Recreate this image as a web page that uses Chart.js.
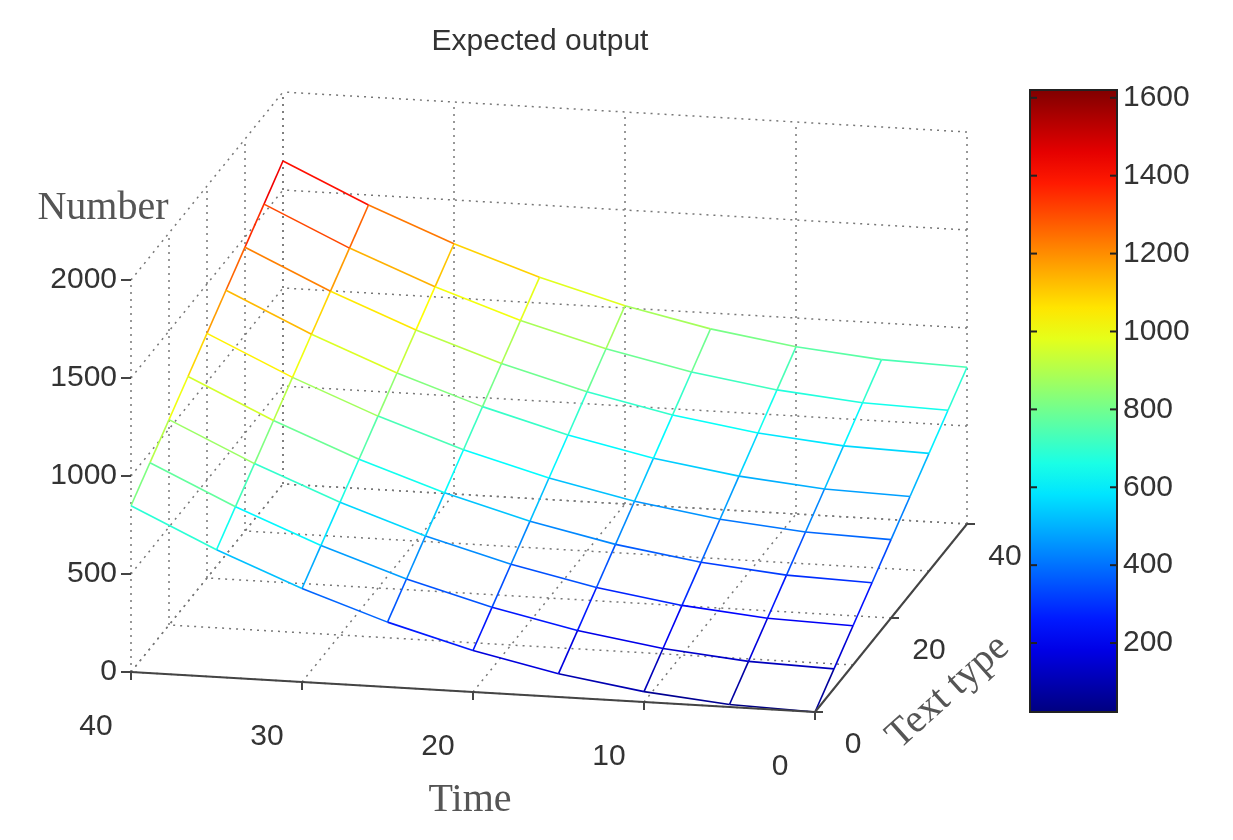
<!DOCTYPE html>
<html><head><meta charset="utf-8">
<script src="https://cdn.jsdelivr.net/npm/chart.js@4"></script>
<style>html,body{margin:0;background:#fff}</style></head>
<body><canvas id="c" width="1233" height="840"></canvas>
<script>
const timeVals=[0,5,10,15,20,25,30,35,40];
const textVals=[0,5,10,15,20,25,30,35,40];
// number[i][j]: time=timeVals[i], text type=textVals[j]
const number=[
[0,100,200,300,400,500,600,700,800],
[13,113,213,313,413,513,613,713,813],
[53,153,253,353,453,553,653,753,853],
[119,219,319,419,519,619,719,819,919],
[212,312,412,512,612,712,812,912,1012],
[331,431,531,631,731,831,931,1031,1131],
[477,577,677,777,877,977,1077,1177,1277],
[649,749,849,949,1049,1149,1249,1349,1449],
[848,948,1048,1148,1248,1348,1448,1548,1648]];
const zTicks=[0,500,1000,1500,2000];
const timeTicks=[40,30,20,10,0];
const textTicks=[0,20,40];
const cbTicks=[200,400,600,800,1000,1200,1400,1600];

function proj(t,s,z){return {x:815-17.1*t+3.8*s, y:712-1.0*t-4.7*s-0.196*z};}
function jet(v){v=Math.max(0,Math.min(1,v));const c=x=>Math.round(255*Math.max(0,Math.min(1,1.5-Math.abs(x))));return `rgb(${c(4*v-3)},${c(4*v-2)},${c(4*v-1)})`;}
const CMAX=1800;
const ds=[];
function addLine(pts,zs){
  ds.push({data:pts,borderWidth:1.6,pointRadius:0,showLine:true,tension:0,
    segment:{borderColor:ctx=>jet(((zs[ctx.p0DataIndex]+zs[ctx.p1DataIndex])/2)/CMAX)}});
}
for(let j=0;j<textVals.length;j++){
  const pts=[],zs=[];
  for(let i=0;i<timeVals.length;i++){pts.push(proj(timeVals[i],textVals[j],number[i][j]));zs.push(number[i][j]);}
  addLine(pts,zs);
}
for(let i=0;i<timeVals.length;i++){
  const pts=[],zs=[];
  for(let j=0;j<textVals.length;j++){pts.push(proj(timeVals[i],textVals[j],number[i][j]));zs.push(number[i][j]);}
  addLine(pts,zs);
}
const ZTOP=2000;
const deco={id:'deco',
 beforeDatasetsDraw(ch){
  const c=ch.ctx,X=ch.scales.x,Y=ch.scales.y;
  const P=(t,s,z)=>{const p=proj(t,s,z);return [X.getPixelForValue(p.x),Y.getPixelForValue(p.y)];};
  const L=(a,b)=>{c.beginPath();c.moveTo(...a);c.lineTo(...b);c.stroke();};
  c.save();c.strokeStyle='#777';c.lineWidth=1.5;c.setLineDash([2,5]);
  for(const t of [0,10,20,30,40]){L(P(t,40,0),P(t,40,ZTOP));L(P(t,0,0),P(t,40,0));}
  for(const s of [0,10,20,30,40]){L(P(40,s,0),P(40,s,ZTOP));L(P(0,s,0),P(40,s,0));}
  for(const z of zTicks){L(P(0,40,z),P(40,40,z));L(P(40,0,z),P(40,40,z));}
  c.restore();
 },
 afterDraw(ch){
  const c=ch.ctx,X=ch.scales.x,Y=ch.scales.y;
  const P=(t,s,z)=>{const p=proj(t,s,z);return [X.getPixelForValue(p.x),Y.getPixelForValue(p.y)];};
  const L=(a,b)=>{c.beginPath();c.moveTo(...a);c.lineTo(...b);c.stroke();};
  c.save();c.strokeStyle='#444';c.lineWidth=2;
  L(P(40,0,0),P(0,0,0));L(P(0,0,0),P(0,40,0));
  c.fillStyle='#333';c.font='30px "Liberation Sans", Arial';
  c.textAlign='right';c.textBaseline='middle';
  for(const z of zTicks){const p=P(40,0,z);L(p,[p[0]-10,p[1]]);c.fillText(String(z),p[0]-14,p[1]);}
  c.textAlign='center';
  for(const t of timeTicks){const p=P(t,0,0);L(p,[p[0],p[1]+8]);c.fillText(String(t),p[0]-35,p[1]+55);}
  for(const s of textTicks){const p=P(0,s,0);L(p,[p[0]+8,p[1]]);c.fillText(String(s),p[0]+38,p[1]+33);}
  c.fillStyle='#555';c.font='40px "Liberation Serif", serif';
  c.fillText('Number',103,208);c.fillText('Time',470,800);
  c.save();c.translate(948,692);c.rotate(-Math.PI/4.3);c.fillText('Text type',0,0);c.restore();
  c.fillStyle='#333';c.font='30px "Liberation Sans", Arial';c.fillText('Expected output',540,42);
  const x0=1030,x1=1117,y0=90,y1=712,vmin=23,vmax=1620;
  const g=c.createLinearGradient(0,y1,0,y0);
  for(let k=0;k<=20;k++)g.addColorStop(k/20,jet(k/20));
  c.fillStyle=g;c.fillRect(x0,y0,x1-x0,y1-y0);
  c.strokeStyle='#222';c.lineWidth=2;c.strokeRect(x0,y0,x1-x0,y1-y0);
  c.fillStyle='#333';c.textAlign='left';
  for(const v of cbTicks){const y=y1-(v-vmin)/(vmax-vmin)*(y1-y0);
    L([x0,y],[x0+7,y]);L([x1,y],[x1-7,y]);c.fillText(String(v),x1+6,y);}
  c.restore();
 }};
new Chart(document.getElementById('c'),{type:'scatter',data:{datasets:ds},
 options:{responsive:false,animation:false,layout:{padding:0},
  plugins:{legend:{display:false},tooltip:{enabled:false}},
  scales:{x:{type:'linear',min:0,max:1233,display:false},y:{type:'linear',min:0,max:840,reverse:true,display:false}}},
 plugins:[deco]});
</script></body></html>
